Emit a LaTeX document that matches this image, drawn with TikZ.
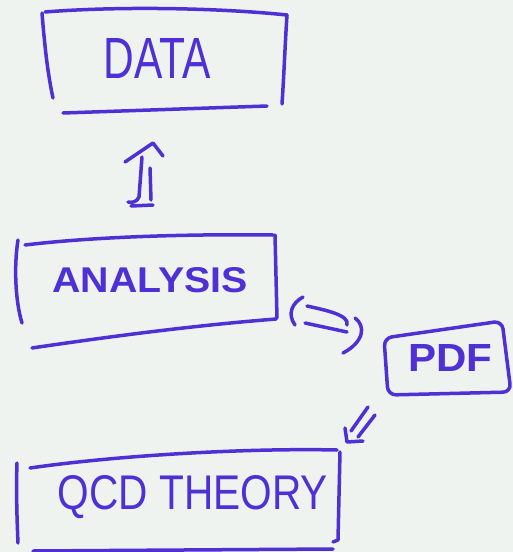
\documentclass[tikz,border=0pt]{standalone}
\usepackage{fontspec}
\setmainfont{Liberation Sans}
\usepackage{graphicx}
\definecolor{inkc}{RGB}{78,48,212}
\definecolor{bgc}{RGB}{238,243,239}
\begin{document}
\begin{tikzpicture}[x=1pt,y=-1pt,
  ink/.style={draw=inkc, line width=3.5pt, line cap=round, line join=round},
  lbl/.style={text=inkc, inner sep=0pt}]
\fill[bgc] (0,0) rectangle (513,552);
\useasboundingbox (0,0) rectangle (513,552);

% labels
\node[lbl] (data) at (157,58) {\resizebox{107pt}{40pt}{DATA}};
\node[lbl] (analysis) at (150,280) {\resizebox{195pt}{25pt}{\bfseries ANALYSIS}};
\node[lbl] (pdf) at (450,358) {\resizebox{84pt}{27pt}{\bfseries PDF}};
\node[lbl] (qcd) at (193,497) {\resizebox{270pt}{34pt}{QCD THEORY}};

% DATA box
\draw[ink] (42,13) .. controls (45,50) and (48,75) .. (53,98);
\draw[ink] (45,12) .. controls (120,6) and (220,8) .. (287,15);
\draw[ink] (287,15) .. controls (285,45) and (284,75) .. (282,104);
\draw[ink] (63,113) -- (267,106);

% arrow ANALYSIS -> DATA
\coordinate (upbot) at (142,205);
\coordinate (uptop) at (153,143);
\draw[ink] (125,162) -- (uptop) -- (163,156);
\draw[ink] (142,157) -- (139,197) .. controls (137,202) and (132,203) .. (128,202);
\draw[ink] (150,168) -- (151,200);
\draw[ink] (131,206) -- (153,205);

% ANALYSIS box
\draw[ink] (18,240) .. controls (14,265) and (15,300) .. (22,323);
\draw[ink] (25,245) .. controls (100,236) and (200,234) .. (273,235);
\draw[ink] (275,235) -- (277,318);
\draw[ink] (32,348) .. controls (120,335) and (200,325) .. (276,319);

% double arrow ANALYSIS <-> PDF
\draw[ink] (303,297) .. controls (292,303) and (287,314) .. (295,325);
\draw[ink] (307,306) .. controls (325,310) and (350,315) .. (347,325);
\draw[ink] (305,323) -- (347,332);
\draw[ink] (355,318) .. controls (366,326) and (364,342) .. (343,353);

% PDF box
\draw[ink, rounded corners=8pt] (384,338) -- (502,321) -- (511,392) -- (388,395) -- cycle;

% arrow PDF -> QCD
\draw[ink] (368,407) -- (351,431);
\draw[ink] (375,415) -- (358,437);
\draw[ink] (345,428) -- (347,442) -- (363,441);

% QCD THEORY box
\draw[ink] (17,463) .. controls (16,490) and (17,520) .. (18,543);
\draw[ink] (30,468) .. controls (120,455) and (250,448) .. (337,450);
\draw[ink] (340,452) -- (338,540) -- (333,542);
\draw[ink] (33,551) -- (333,549);
\end{tikzpicture}
\end{document}
